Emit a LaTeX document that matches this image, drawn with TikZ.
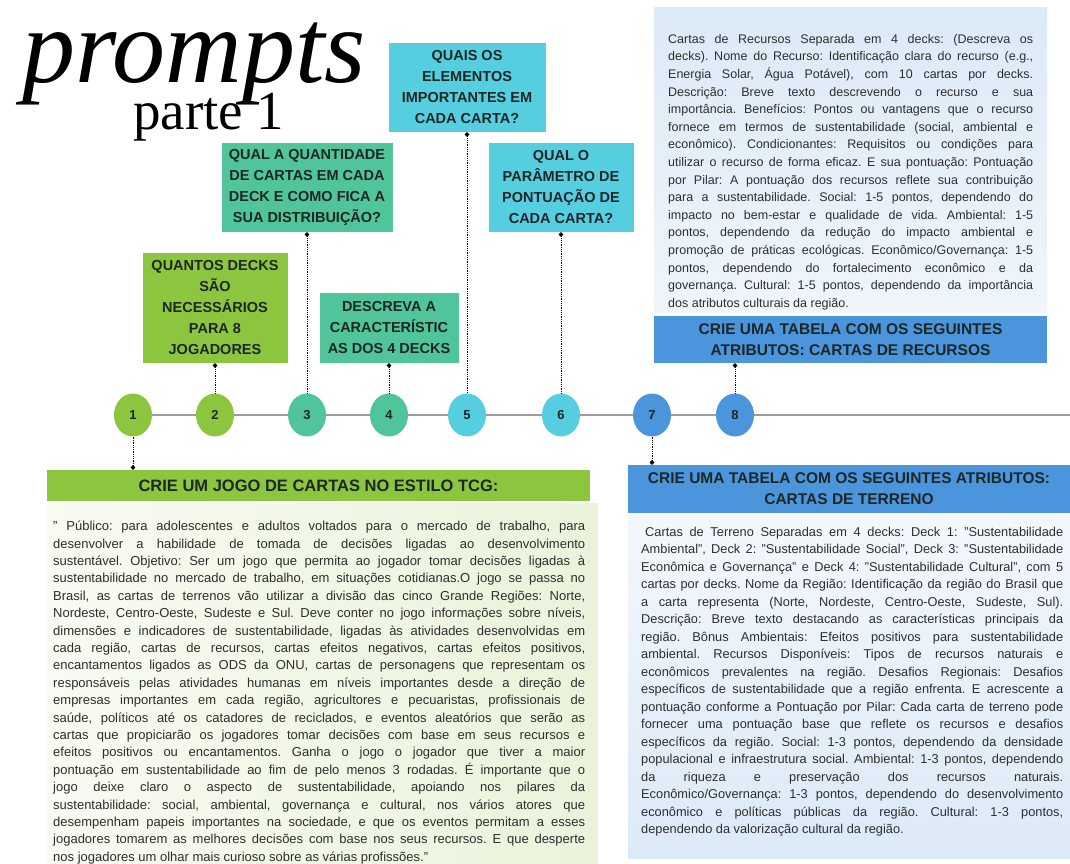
\documentclass[tikz,border=0pt]{standalone}
\usepackage{fontspec}
\setmainfont{Liberation Sans}
\newfontfamily\titlefont{Liberation Serif}
\usetikzlibrary{arrows,arrows.meta,shapes}
\pgfdeclarelayer{background}
\pgfsetlayers{background,main}
\tolerance=10000
\hbadness=10000
\definecolor{limegreen}{HTML}{8CC63F}
\definecolor{seagreen}{HTML}{50C49B}
\definecolor{skycyan}{HTML}{55CFE0}
\definecolor{midblue}{HTML}{4A95DC}
\definecolor{inkgray}{HTML}{1F2626}
\definecolor{bodygray}{HTML}{2E2E2E}
\definecolor{paleblue}{HTML}{DCE9F7}
\definecolor{palegreen}{HTML}{EAF3DA}
\definecolor{linegray}{HTML}{9C9C9C}
\tikzstyle{point}=[ellipse
,minimum width=38pt
,minimum height=43pt
,inner sep=0pt
,font=\fontsize{13}{13}\selectfont\bfseries
,text=inkgray
]
\tikzstyle{question} = [rectangle, inner sep=0pt, align=center, text=inkgray, font=\fontsize{14.5}{21}\selectfont\bfseries]
\tikzstyle{heading} = [question, font=\fontsize{15.5}{21}\selectfont\bfseries]
\tikzstyle{bodytext} = [anchor=north west, inner sep=0pt, align=justify, text=bodygray, font=\fontsize{12.5}{17.6}\selectfont\frenchspacing]
\tikzstyle{link} = [draw, densely dotted, line width=0.8pt, {Circle[length=4.5pt]}-]
\tikzstyle{timeline} = [draw, linegray, line width=1.8pt]

\begin{document}
\begin{tikzpicture}[x=1pt,y=-1pt]
    \useasboundingbox (0,0) rectangle (1070,864);
    % Title
    \node[anchor=base west, inner sep=0pt, font=\titlefont\itshape\fontsize{106}{106}\selectfont] (title) at (22,83) {prompts};
    \node[anchor=base west, inner sep=0pt, font=\titlefont\fontsize{55}{55}\selectfont] (subtitle) at (133,129) {parte 1};

    % Points of the timeline
    \foreach \n/\x/\col in {1/133/limegreen, 2/215/limegreen, 3/307/seagreen, 4/389/seagreen, 5/467/skycyan, 6/561/skycyan, 7/652/midblue, 8/735/midblue}
        \node[point, fill=\col] (c\n) at (\x,415) {\n};
    \coordinate (tlend) at (1070,415);
    \begin{pgfonlayer}{background}
        \path[timeline] (c1.center) -- (tlend);
    \end{pgfonlayer}

    % Questions above the timeline
    \node[question, fill=limegreen, minimum width=145pt, minimum height=110pt] (q2) at (215,308) {QUANTOS DECKS\\SÃO\\NECESSÁRIOS\\PARA 8\\JOGADORES};
    \node[question, fill=seagreen, minimum width=171pt, minimum height=89pt] (q3) at (307,187.5) {QUAL A QUANTIDADE\\DE CARTAS EM CADA\\DECK E COMO FICA A\\SUA DISTRIBUIÇÃO?};
    \node[question, fill=seagreen, minimum width=139pt, minimum height=70pt] (q4) at (389,328) {DESCREVA A\\CARACTERÍSTIC\\AS DOS 4 DECKS};
    \node[question, fill=skycyan, minimum width=157pt, minimum height=89pt] (q5) at (467,87.5) {QUAIS OS\\ELEMENTOS\\IMPORTANTES EM\\CADA CARTA?};
    \node[question, fill=skycyan, minimum width=145pt, minimum height=89pt] (q6) at (561,187.5) {QUAL O\\PARÂMETRO DE\\PONTUAÇÃO DE\\CADA CARTA?};

    % Resources table (8)
    \shade[top color=paleblue, bottom color=paleblue!45!white] (654,8) rectangle (1047,312);
    \node[bodytext, text width=365pt] (t8) at (668,34) {Cartas de Recursos Separada em 4 decks: (Descreva os\linebreak
decks). Nome do Recurso: Identificação clara do recurso (e.g.,\linebreak
Energia Solar, Água Potável), com 10 cartas por decks.\linebreak
Descrição: Breve texto descrevendo o recurso e sua\linebreak
importância. Benefícios: Pontos ou vantagens que o recurso\linebreak
fornece em termos de sustentabilidade (social, ambiental e\linebreak
econômico). Condicionantes: Requisitos ou condições para\linebreak
utilizar o recurso de forma eficaz. E sua pontuação: Pontuação\linebreak
por Pilar: A pontuação dos recursos reflete sua contribuição\linebreak
para a sustentabilidade. Social: 1-5 pontos, dependendo do\linebreak
impacto no bem-estar e qualidade de vida. Ambiental: 1-5\linebreak
pontos, dependendo da redução do impacto ambiental e\linebreak
promoção de práticas ecológicas. Econômico/Governança: 1-5\linebreak
pontos, dependendo do fortalecimento econômico e da\linebreak
governança. Cultural: 1-5 pontos, dependendo da importância\linebreak
dos atributos culturais da região.};
    \node[heading, fill=midblue, minimum width=393pt, minimum height=47pt] (h8) at (850.5,339.5) {CRIE UMA TABELA COM OS SEGUINTES\\ATRIBUTOS: CARTAS DE RECURSOS};

    % TCG game (1)
    \node[heading, fill=limegreen, minimum width=543pt, minimum height=31pt, font=\fontsize{16.5}{21}\selectfont\bfseries] (h1) at (318.5,485.5) {CRIE UM JOGO DE CARTAS NO ESTILO TCG:};
    \shade[left color=palegreen!35!white, right color=palegreen] (47,503) rectangle (598,864);
    \node[bodytext, text width=532pt, font=\fontsize{13}{17.4}\selectfont\frenchspacing] (t1) at (53,521) {" Público: para adolescentes e adultos voltados para o mercado de trabalho, para\linebreak
desenvolver a habilidade de tomada de decisões ligadas ao desenvolvimento\linebreak
sustentável. Objetivo: Ser um jogo que permita ao jogador tomar decisões ligadas à\linebreak
sustentabilidade no mercado de trabalho, em situações cotidianas.O jogo se passa no\linebreak
Brasil, as cartas de terrenos vão utilizar a divisão das cinco Grande Regiões: Norte,\linebreak
Nordeste, Centro-Oeste, Sudeste e Sul. Deve conter no jogo informações sobre níveis,\linebreak
dimensões e indicadores de sustentabilidade, ligadas às atividades desenvolvidas em\linebreak
cada região, cartas de recursos, cartas efeitos negativos, cartas efeitos positivos,\linebreak
encantamentos ligados as ODS da ONU, cartas de personagens que representam os\linebreak
responsáveis pelas atividades humanas em níveis importantes desde a direção de\linebreak
empresas importantes em cada região, agricultores e pecuaristas, profissionais de\linebreak
saúde, políticos até os catadores de reciclados, e eventos aleatórios que serão as\linebreak
cartas que propiciarão os jogadores tomar decisões com base em seus recursos e\linebreak
efeitos positivos ou encantamentos. Ganha o jogo o jogador que tiver a maior\linebreak
pontuação em sustentabilidade ao fim de pelo menos 3 rodadas. É importante que o\linebreak
jogo deixe claro o aspecto de sustentabilidade, apoiando nos pilares da\linebreak
sustentabilidade: social, ambiental, governança e cultural, nos vários atores que\linebreak
desempenham papeis importantes na sociedade, e que os eventos permitam a esses\linebreak
jogadores tomarem as melhores decisões com base nos seus recursos. E que desperte\linebreak
nos jogadores um olhar mais curioso sobre as várias profissões."};

    % Terrain table (7)
    \node[heading, fill=midblue, minimum width=442pt, minimum height=48pt] (h7) at (849,489) {CRIE UMA TABELA COM OS SEGUINTES ATRIBUTOS:\\CARTAS DE TERRENO};
    \shade[top color=paleblue!35!white, bottom color=paleblue] (628,515) rectangle (1070,858);
    \node[bodytext, text width=422pt, font=\fontsize{12.8}{17.5}\selectfont\frenchspacing] (t7) at (641,527) {\hspace*{4pt}Cartas de Terreno Separadas em 4 decks: Deck 1: "Sustentabilidade\linebreak
Ambiental", Deck 2: "Sustentabilidade Social", Deck 3: "Sustentabilidade\linebreak
Econômica e Governança" e Deck 4: "Sustentabilidade Cultural", com 5\linebreak
cartas por decks. Nome da Região: Identificação da região do Brasil que\linebreak
a carta representa (Norte, Nordeste, Centro-Oeste, Sudeste, Sul).\linebreak
Descrição: Breve texto destacando as características principais da\linebreak
região. Bônus Ambientais: Efeitos positivos para sustentabilidade\linebreak
ambiental. Recursos Disponíveis: Tipos de recursos naturais e\linebreak
econômicos prevalentes na região. Desafios Regionais: Desafios\linebreak
específicos de sustentabilidade que a região enfrenta. E acrescente a\linebreak
pontuação conforme a Pontuação por Pilar: Cada carta de terreno pode\linebreak
fornecer uma pontuação base que reflete os recursos e desafios\linebreak
específicos da região. Social: 1-3 pontos, dependendo da densidade\linebreak
populacional e infraestrutura social. Ambiental: 1-3 pontos, dependendo\linebreak
da riqueza e preservação dos recursos naturais.\linebreak
Econômico/Governança: 1-3 pontos, dependendo do desenvolvimento\linebreak
econômico e políticas públicas da região. Cultural: 1-3 pontos,\linebreak
dependendo da valorização cultural da região.};

    % Connect questions and tables with the points
    \foreach \src/\dest in {q2/c2, q3/c3, q4/c4, q5/c5, q6/c6}
        \path[link] (\src.south) -- (\dest.north);
    \path[link] (c8 |- h8.south) -- (c8.north);
    \path[link] (c1 |- h1.north) -- (c1.south);
    \path[link] (c7 |- h7.north) -- (c7.south);
\end{tikzpicture}
\end{document}
